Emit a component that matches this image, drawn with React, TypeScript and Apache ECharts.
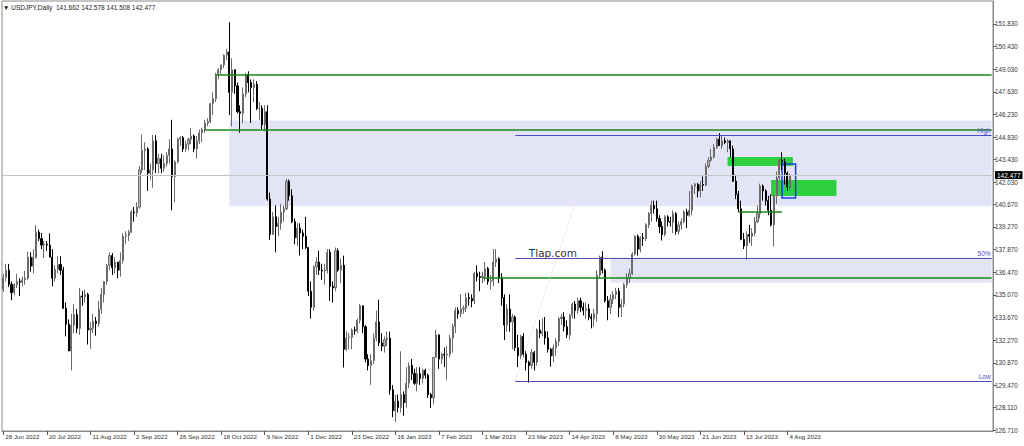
import React, { useEffect, useRef } from "react";
import * as echarts from "echarts";

// MT4 style candles: [open, high, low, close]
const jun22: number[][] = [
  [135.43, 136.38, 135.25, 136.14], [136.14, 137.0, 135.9, 136.6], [136.6, 136.99, 135.55, 135.72],
];
const jul22: number[][] = [
  [135.72, 135.9, 134.74, 135.21], [135.21, 135.8, 135.05, 135.7], [135.7, 136.38, 135.5, 135.9],
  [135.9, 136.1, 135.0, 135.85], [135.85, 136.2, 135.6, 136.0], [136.0, 136.55, 135.7, 136.1],
  [136.1, 137.75, 136.0, 137.4], [137.4, 137.7, 136.5, 136.85], [136.85, 137.9, 136.4, 137.4],
  [137.4, 139.38, 137.3, 138.95], [138.95, 139.1, 138.4, 138.55], [138.55, 138.9, 137.9, 138.15],
  [138.15, 138.4, 137.35, 138.2], [138.2, 138.4, 137.8, 138.15], [138.15, 138.88, 137.4, 137.4],
  [137.4, 137.9, 135.6, 136.1], [136.1, 136.9, 135.9, 136.65], [136.65, 137.45, 136.4, 136.95],
  [136.95, 137.45, 136.3, 136.6], [136.6, 136.8, 134.2, 134.25], [134.25, 134.6, 132.5, 133.25],
];
const aug22: number[][] = [
  [133.25, 133.55, 131.6, 131.6], [131.6, 133.9, 130.4, 133.2], [133.2, 134.5, 132.7, 133.85],
  [133.85, 134.2, 132.7, 133.0], [133.0, 135.5, 132.6, 135.0], [135.0, 135.3, 134.4, 134.95],
  [134.95, 135.4, 134.6, 135.1], [135.1, 135.2, 132.0, 132.9], [132.9, 133.4, 131.73, 133.0],
  [133.0, 133.9, 132.7, 133.45], [133.45, 133.7, 132.55, 133.3], [133.3, 134.7, 133.1, 134.2],
  [134.2, 135.5, 133.9, 135.1], [135.1, 135.9, 134.6, 135.9], [135.9, 137.0, 135.7, 136.9],
  [136.9, 137.7, 136.6, 137.5], [137.5, 137.65, 136.3, 136.75], [136.75, 137.4, 136.4, 137.1],
  [137.1, 137.1, 136.1, 136.6], [136.6, 137.7, 136.2, 137.2], [137.2, 138.9, 137.0, 138.7],
  [138.7, 139.0, 138.2, 138.75], [138.75, 139.1, 138.4, 138.95],
];
const sep22: number[][] = [
  [138.95, 140.3, 138.9, 140.2], [140.2, 140.5, 139.6, 140.15], [140.15, 140.8, 139.9, 140.5],
  [140.5, 143.05, 140.4, 142.8], [142.8, 144.99, 142.6, 144.0], [144.0, 144.5, 142.8, 144.1],
  [144.1, 144.2, 141.5, 142.6], [142.6, 143.2, 142.2, 142.8], [142.8, 144.96, 141.7, 144.6],
  [144.6, 144.95, 142.6, 143.2], [143.2, 143.8, 142.6, 143.5], [143.5, 143.8, 142.6, 142.9],
  [142.9, 143.7, 142.7, 143.2], [143.2, 143.9, 143.0, 143.7], [143.7, 144.7, 143.2, 144.1],
  [144.1, 145.9, 140.3, 142.4], [142.4, 143.4, 140.8, 143.3], [143.3, 144.8, 143.2, 144.7],
  [144.7, 144.9, 144.3, 144.8], [144.8, 144.9, 143.9, 144.1], [144.1, 144.6, 143.9, 144.4],
  [144.4, 144.8, 144.0, 144.7],
];
const oct22: number[][] = [
  [144.7, 145.4, 144.4, 144.9], [144.9, 145.0, 143.9, 144.1], [144.1, 144.9, 143.5, 144.6],
  [144.6, 145.3, 144.4, 145.1], [145.1, 145.4, 144.5, 145.3], [145.3, 145.9, 145.1, 145.7],
  [145.7, 146.0, 145.5, 145.8], [145.8, 146.95, 145.7, 146.9], [146.9, 147.6, 146.2, 147.2],
  [147.2, 148.8, 147.0, 148.7], [148.7, 149.1, 148.4, 149.0], [149.0, 149.3, 148.7, 149.3],
  [149.3, 149.95, 149.1, 149.9], [149.9, 150.3, 149.6, 150.1], [150.1, 151.94, 146.2, 147.6],
  [147.6, 149.7, 145.5, 149.0], [149.0, 149.0, 147.5, 148.0], [148.0, 148.2, 146.3, 146.4],
  [146.4, 146.8, 145.1, 146.3], [146.3, 147.9, 145.7, 147.5], [147.5, 148.8, 147.3, 148.7],
];
const nov22: number[][] = [
  [148.7, 148.9, 147.6, 148.2], [148.2, 148.4, 145.7, 147.9], [147.9, 148.4, 147.0, 148.1],
  [148.1, 148.3, 146.5, 146.6], [146.6, 147.0, 145.9, 146.6], [146.6, 146.8, 145.3, 145.6],
  [145.6, 146.8, 145.2, 146.4], [146.4, 146.8, 140.9, 141.0], [141.0, 141.4, 138.47, 138.8],
  [138.8, 140.2, 138.8, 139.9], [139.9, 140.6, 137.7, 139.3], [139.3, 139.9, 138.7, 139.5],
  [139.5, 140.7, 139.1, 140.2], [140.2, 140.6, 139.6, 140.4], [140.4, 142.25, 140.3, 142.1],
  [142.1, 142.2, 140.9, 141.2], [141.2, 141.6, 139.5, 139.6], [139.6, 139.8, 138.2, 138.6],
  [138.6, 139.5, 138.1, 139.2], [139.2, 139.5, 137.5, 138.9], [138.9, 139.1, 137.9, 138.7],
  [138.7, 139.9, 137.9, 138.0],
];
const dec22: number[][] = [
  [138.0, 138.0, 135.0, 135.3], [135.3, 135.9, 133.6, 134.3], [134.3, 136.9, 134.1, 136.8],
  [136.8, 137.4, 136.3, 137.1], [137.1, 137.8, 136.3, 136.6], [136.6, 137.0, 136.0, 136.55],
  [136.55, 137.0, 135.7, 136.6], [136.6, 137.9, 136.4, 137.7], [137.7, 137.9, 134.7, 135.6],
  [135.6, 135.9, 134.6, 135.5], [135.5, 138.0, 135.3, 137.8], [137.8, 137.95, 136.5, 136.6],
  [136.6, 137.3, 135.8, 136.9], [136.9, 137.5, 130.58, 131.7], [131.7, 132.8, 131.6, 132.4],
  [132.4, 132.7, 131.7, 132.45], [132.45, 133.0, 131.7, 132.9], [132.9, 133.1, 132.6, 132.85],
  [132.85, 133.6, 132.7, 133.5], [133.5, 134.5, 133.3, 134.4], [134.4, 134.4, 132.7, 133.1],
  [133.1, 133.2, 130.9, 131.1],
];
const jan23: number[][] = [
  [131.1, 131.4, 130.4, 130.7], [130.7, 131.4, 129.5, 131.0], [131.0, 132.7, 130.8, 132.4],
  [132.4, 134.1, 132.2, 133.4], [133.4, 134.77, 131.9, 132.1], [132.1, 132.7, 131.6, 131.9],
  [131.9, 132.5, 131.5, 132.3], [132.3, 132.8, 131.9, 132.4], [132.4, 132.8, 128.9, 129.2],
  [129.2, 129.5, 127.5, 127.9], [127.9, 128.9, 127.22, 128.5], [128.5, 128.9, 127.8, 128.1],
  [128.1, 131.58, 127.8, 128.9], [128.9, 129.1, 127.6, 128.4], [128.4, 130.6, 128.1, 129.6],
  [129.6, 130.9, 129.3, 130.7], [130.7, 131.1, 129.8, 130.2], [130.2, 130.5, 129.5, 129.6],
  [129.6, 130.6, 129.1, 130.2], [130.2, 130.6, 129.5, 129.9], [129.9, 130.5, 129.6, 130.4],
  [130.4, 130.5, 129.9, 130.1],
];
const feb23: number[][] = [
  [130.1, 130.2, 128.7, 128.9], [128.9, 129.0, 128.08, 128.7], [128.7, 131.2, 128.3, 131.2],
  [131.2, 132.9, 131.2, 132.6], [132.6, 132.6, 130.5, 131.1], [131.1, 131.5, 130.8, 131.4],
  [131.4, 131.8, 130.6, 131.35], [131.35, 131.9, 129.8, 131.4], [131.4, 132.6, 131.2, 132.4],
  [132.4, 133.3, 131.5, 133.1], [133.1, 134.3, 132.7, 134.1], [134.1, 134.3, 133.6, 133.9],
  [133.9, 135.1, 133.7, 134.2], [134.2, 134.4, 133.9, 134.25], [134.25, 135.2, 134.0, 134.9],
  [134.9, 135.2, 134.4, 134.85], [134.85, 135.1, 134.3, 134.7], [134.7, 136.5, 134.5, 136.4],
  [136.4, 136.9, 135.9, 136.2], [136.2, 136.5, 135.3, 136.15],
];
const mar23: number[][] = [
  [136.15, 136.5, 135.8, 136.2], [136.2, 137.1, 135.9, 136.7], [136.7, 136.8, 135.7, 135.9],
  [135.9, 136.3, 135.4, 135.95], [135.95, 137.9, 135.6, 137.1], [137.1, 137.91, 136.8, 137.3],
  [137.3, 137.4, 135.8, 136.1], [136.1, 136.4, 134.4, 134.9], [134.9, 135.1, 132.28, 133.2],
  [133.2, 134.5, 132.8, 134.2], [134.2, 135.1, 132.8, 133.4], [133.4, 133.9, 131.7, 133.7],
  [133.7, 133.8, 131.6, 131.8], [131.8, 132.6, 130.6, 131.3], [131.3, 132.6, 131.1, 132.5],
  [132.5, 132.7, 131.2, 131.4], [131.4, 131.6, 130.4, 130.9], [130.9, 131.0, 129.64, 130.7],
  [130.7, 131.7, 130.5, 131.5], [131.5, 131.6, 130.4, 130.9], [130.9, 133.0, 130.7, 132.9],
  [132.9, 133.5, 132.4, 132.7], [132.7, 133.6, 132.5, 132.8],
];
const apr23: number[][] = [
  [132.8, 133.7, 132.0, 132.4], [132.4, 132.8, 131.5, 131.7], [131.7, 131.8, 130.63, 131.3],
  [131.3, 132.0, 130.9, 131.8], [131.8, 132.4, 131.3, 132.2], [132.2, 133.7, 131.9, 133.6],
  [133.6, 133.9, 133.2, 133.7], [133.7, 134.0, 132.8, 133.1], [133.1, 133.5, 132.4, 132.6],
  [132.6, 133.9, 132.3, 133.8], [133.8, 134.6, 133.6, 134.5], [134.5, 134.7, 133.6, 134.1],
  [134.1, 134.9, 133.9, 134.7], [134.7, 134.9, 134.0, 134.3], [134.3, 134.6, 133.8, 134.1],
  [134.1, 134.6, 133.6, 134.2], [134.2, 134.5, 133.5, 133.7], [133.7, 133.9, 133.0, 133.6],
  [133.6, 134.2, 133.1, 133.9], [133.9, 136.6, 133.4, 136.3],
];
const may23: number[][] = [
  [136.3, 137.5, 136.1, 137.4], [137.4, 137.77, 136.4, 136.6], [136.6, 136.7, 134.6, 134.7],
  [134.7, 135.0, 133.5, 134.3], [134.3, 135.1, 133.9, 134.8], [134.8, 135.3, 134.5, 135.1],
  [135.1, 135.5, 134.8, 135.3], [135.3, 135.5, 133.7, 134.3], [134.3, 134.8, 133.7, 134.5],
  [134.5, 135.8, 134.3, 135.7], [135.7, 136.4, 135.5, 136.1], [136.1, 136.7, 135.8, 136.4],
  [136.4, 137.7, 136.3, 137.6], [137.6, 138.75, 137.5, 138.7], [138.7, 138.8, 137.5, 137.9],
  [137.9, 138.7, 137.7, 138.6], [138.6, 138.9, 138.1, 138.55], [138.55, 139.5, 138.4, 139.4],
  [139.4, 140.2, 139.2, 140.1], [140.1, 140.9, 139.6, 140.6], [140.6, 140.9, 140.1, 140.4],
  [140.4, 140.9, 139.6, 139.8], [139.8, 140.0, 138.9, 139.3],
];
const jun23: number[][] = [
  [139.3, 139.6, 138.43, 138.8], [138.8, 140.0, 138.7, 139.9], [139.9, 140.0, 139.3, 139.6],
  [139.6, 139.9, 139.3, 139.55], [139.55, 140.3, 138.9, 140.1], [140.1, 140.2, 138.8, 139.0],
  [139.0, 139.6, 138.8, 139.4], [139.4, 139.8, 139.1, 139.6], [139.6, 140.3, 139.5, 140.2],
  [140.2, 140.4, 139.2, 140.0], [140.0, 141.5, 139.9, 140.3], [140.3, 141.9, 140.0, 141.8],
  [141.8, 142.0, 141.3, 141.9], [141.9, 142.0, 141.1, 141.5], [141.5, 142.1, 141.1, 141.9],
  [141.9, 142.4, 141.5, 141.85], [141.85, 143.2, 141.8, 143.0], [143.0, 143.6, 142.9, 143.4],
  [143.4, 144.1, 143.3, 143.6], [143.6, 144.4, 143.5, 144.2], [144.2, 144.8, 144.1, 144.7],
  [144.7, 145.07, 144.3, 144.3],
];
const jul23: number[][] = [
  [144.3, 144.9, 144.1, 144.6], [144.6, 144.8, 144.4, 144.5], [144.5, 144.7, 143.9, 144.6],
  [144.6, 144.6, 143.6, 144.1], [144.1, 144.3, 142.05, 142.1], [142.1, 142.5, 141.0, 141.3],
  [141.3, 141.5, 140.2, 140.4], [140.4, 140.9, 138.45, 138.5], [138.5, 138.9, 137.9, 138.1],
  [138.1, 139.0, 137.24, 138.8], [138.8, 139.4, 138.3, 138.7], [138.7, 139.2, 138.1, 138.9],
  [138.9, 139.9, 138.7, 139.6], [139.6, 140.6, 139.5, 140.1], [140.1, 141.95, 139.8, 141.8],
  [141.8, 141.9, 140.9, 141.5], [141.5, 141.6, 140.6, 140.9], [140.9, 141.2, 140.0, 140.3],
  [140.3, 141.3, 139.3, 139.4], [139.4, 141.3, 138.06, 141.2], [141.2, 142.7, 140.7, 142.3],
];
const aug23: number[][] = [
  [142.3, 143.5, 142.2, 143.4], [143.4, 143.89, 142.8, 143.3], [143.3, 143.5, 141.9, 142.6],
  [142.6, 142.7, 141.5, 141.75], [141.662, 142.578, 141.508, 142.477],
];

const CANDLES = [
  ...jun22, ...jul22, ...aug22, ...sep22, ...oct22, ...nov22, ...dec22,
  ...jan23, ...feb23, ...mar23, ...apr23, ...may23, ...jun23, ...jul23, ...aug23,
];

const X_LABELS = [
  "28 Jun 2022", "20 Jul 2022", "11 Aug 2022", "2 Sep 2022", "26 Sep 2022", "18 Oct 2022",
  "9 Nov 2022", "1 Dec 2022", "23 Dec 2022", "16 Jan 2023", "7 Feb 2023", "1 Mar 2023",
  "23 Mar 2023", "14 Apr 2023", "8 May 2023", "30 May 2023", "21 Jun 2023", "13 Jul 2023",
  "4 Aug 2023",
];
const LABEL_STEP = 16;

const Y_TICKS = [
  126.71, 128.11, 129.47, 130.87, 132.27, 133.67, 135.07, 136.47, 137.87, 139.27,
  140.67, 142.03, 143.43, 144.83, 146.23, 147.63, 149.03, 150.43, 151.83,
];

// Drawn levels
const ZONE_TOP = [145.85, 140.55];
const ZONE_LOW = [137.38, 135.82];
const GREEN_LEVELS = [148.67, 145.27, 136.1];
const GREEN_SHORT = 140.2;
const FIB = { high: 144.96, mid: 137.35, low: 129.74 };
const GREEN_BOX_1 = [143.6, 143.04];
const GREEN_BOX_2 = [142.18, 141.19];
const BLUE_BOX = [143.17, 141.06];

const MONTHS = ["Jan", "Feb", "Mar", "Apr", "May", "Jun", "Jul", "Aug", "Sep", "Oct", "Nov", "Dec"];
const N_CATS = 364;

function weekdays(startISO: string, n: number): string[] {
  const out: string[] = [];
  const d = new Date(startISO + "T00:00:00Z");
  while (out.length < n) {
    const wd = d.getUTCDay();
    if (wd !== 0 && wd !== 6) {
      out.push(`${d.getUTCDate()} ${MONTHS[d.getUTCMonth()]} ${d.getUTCFullYear()}`);
    }
    d.setUTCDate(d.getUTCDate() + 1);
  }
  return out;
}

const CATS = weekdays("2022-06-28", N_CATS);
const LAST = CANDLES[CANDLES.length - 1];
const LAST_IDX = CANDLES.length - 1;
const END = CATS[N_CATS - 1];

const FONT = "'Liberation Sans', Arial, sans-serif";

function hline(fromIdx: number, toCat: string, v: number, color: string, width: number, label?: any) {
  return [
    {
      coord: [CATS[fromIdx], v],
      lineStyle: { color, width, type: "solid" },
      label: label ? { show: true, ...label } : { show: false },
    },
    { coord: [toCat, v] },
  ];
}

export default function App() {
  const ref = useRef<HTMLDivElement>(null);

  useEffect(() => {
    document.body.style.margin = "0";
    const chart = echarts.init(ref.current!, null, { renderer: "svg" });
    const blue = "#4b4bc4";
    const green = "#178a17";
    const fibLabel = (t: string) => ({
      position: "insideEndTop",
      formatter: t,
      color: blue,
      fontSize: 6.5,
      fontFamily: FONT,
      distance: 1,
    });

    const option: any = {
      animation: false,
      title: {
        text: `\u25BC USDJPY,Daily  ${LAST.map((v) => v.toFixed(3)).join(" ")}`,
        left: 3,
        top: 4,
        padding: 0,
        textStyle: { fontSize: 6.5, fontWeight: "normal", color: "#222", fontFamily: FONT },
      },
      grid: {
        left: 2,
        right: 31,
        top: 1,
        bottom: 15,
        show: true,
        borderColor: "#8a8a8a",
        borderWidth: 1,
        backgroundColor: "#ffffff",
      },
      xAxis: {
        type: "category",
        data: CATS,
        boundaryGap: true,
        axisLine: { show: true, lineStyle: { color: "#8a8a8a" } },
        axisTick: {
          show: true,
          alignWithLabel: true,
          length: 4,
          interval: (i: number) => i % LABEL_STEP === 0 && i <= LAST_IDX,
          lineStyle: { color: "#555" },
        },
        axisLabel: {
          interval: (i: number) => i % LABEL_STEP === 0 && i <= LAST_IDX,
          formatter: (_v: string, i: number) => X_LABELS[i / LABEL_STEP] ?? "",
          align: "left",
          margin: 2,
          padding: [0, 0, 0, 2],
          fontSize: 6.2,
          color: "#333",
          fontFamily: FONT,
        },
        splitLine: { show: false },
      },
      yAxis: {
        type: "value",
        position: "right",
        min: 126.65,
        max: 153.25,
        splitLine: { show: false },
        axisLine: { show: true, lineStyle: { color: "#8a8a8a" } },
        axisTick: { show: true, length: 3, customValues: Y_TICKS, lineStyle: { color: "#555" } },
        axisLabel: {
          customValues: Y_TICKS,
          formatter: (v: number) => v.toFixed(3),
          fontSize: 6.3,
          color: "#333",
          margin: 2,
          fontFamily: FONT,
        },
      },
      series: [
        {
          type: "line",
          name: "zones",
          data: CATS.map(() => null),
          symbol: "none",
          silent: true,
          z: 1,
          markArea: {
            silent: true,
            data: [
              [
                { coord: [CATS[83], ZONE_TOP[0]], itemStyle: { color: "#e4e4f7" } },
                { coord: [END, ZONE_TOP[1]] },
              ],
              [
                { coord: [CATS[223], ZONE_LOW[0]], itemStyle: { color: "#e4e4f7" } },
                { coord: [END, ZONE_LOW[1]] },
              ],
              [
                { coord: [CATS[266], GREEN_BOX_1[0]], itemStyle: { color: "#2fd03f" } },
                { coord: [CATS[290], GREEN_BOX_1[1]] },
              ],
              [
                { coord: [CATS[282], GREEN_BOX_2[0]], itemStyle: { color: "#2fd03f" } },
                { coord: [CATS[306], GREEN_BOX_2[1]] },
              ],
            ],
          },
        },
        {
          type: "candlestick",
          name: "USDJPY",
          data: CANDLES.map(([o, h, l, c]) => [o, c, l, h]),
          barWidth: 1.6,
          z: 2,
          itemStyle: {
            color: "#bdbdbd",
            color0: "#000000",
            borderColor: "#6a6a6a",
            borderColor0: "#000000",
            borderWidth: 1,
          },
          markLine: {
            silent: true,
            symbol: ["none", "none"],
            data: [
              {
                yAxis: LAST[3],
                lineStyle: { color: "#c4c4c4", width: 1, type: "solid" },
                label: {
                  show: true,
                  position: "end",
                  formatter: LAST[3].toFixed(3),
                  color: "#ffffff",
                  backgroundColor: "#000000",
                  padding: [1, 2, 0, 2],
                  fontSize: 6.5,
                  fontFamily: FONT,
                  distance: 2,
                },
              },
            ],
          },
        },
        {
          type: "line",
          name: "levels",
          data: CATS.map(() => null),
          symbol: "none",
          silent: true,
          z: 3,
          markArea: {
            silent: true,
            data: [
              [
                {
                  coord: [CATS[286], BLUE_BOX[0]],
                  itemStyle: { color: "rgba(0,0,0,0)", borderColor: "#1c3ce6", borderWidth: 1.5 },
                },
                { coord: [CATS[291], BLUE_BOX[1]] },
              ],
            ],
          },
          markLine: {
            silent: true,
            symbol: ["none", "none"],
            data: [
              hline(78, END, GREEN_LEVELS[0], green, 1.5),
              hline(74, END, GREEN_LEVELS[1], green, 1.5),
              hline(176, END, GREEN_LEVELS[2], green, 1.5),
              hline(270, CATS[286], GREEN_SHORT, green, 1.5),
              hline(188, END, FIB.high, blue, 1, fibLabel("High")),
              hline(188, END, FIB.mid, blue, 1, fibLabel("50%")),
              hline(188, END, FIB.low, blue, 1, fibLabel("Low")),
              [
                {
                  coord: [CATS[188], FIB.low],
                  lineStyle: { color: "#f8d4d4", width: 1, type: "dotted" },
                  label: { show: false },
                },
                { coord: [CATS[210], 140.7] },
              ],
            ],
          },
          markPoint: {
            silent: true,
            symbol: "rect",
            symbolSize: 0,
            data: [
              {
                coord: [CATS[193], 137.66],
                label: {
                  show: true,
                  position: "right",
                  distance: 0,
                  formatter: "Tlap.com",
                  fontSize: 10.5,
                  color: "#333",
                  fontFamily: "'DejaVu Sans', sans-serif",
                },
              },
            ],
          },
        },
      ],
    };
    chart.setOption(option);
    return () => chart.dispose();
  }, []);

  return <div ref={ref} style={{ width: 1024, height: 446 }} />;
}
